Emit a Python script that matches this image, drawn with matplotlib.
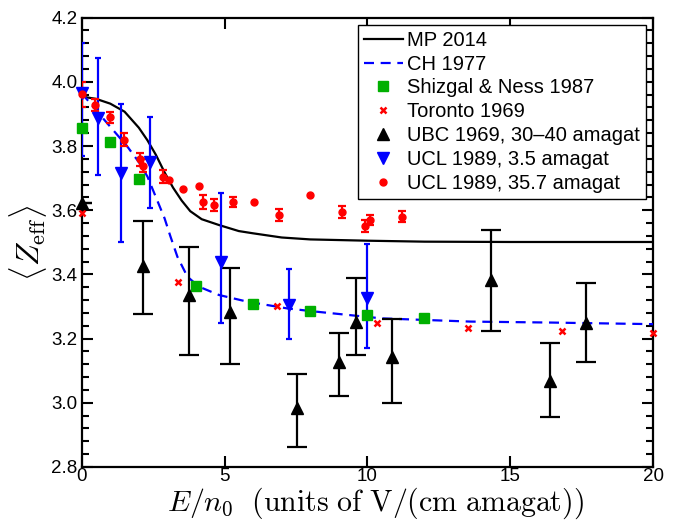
import numpy as np
import matplotlib
matplotlib.use("Agg")
import matplotlib.pyplot as plt
from matplotlib.ticker import MultipleLocator

plt.rcParams['font.family'] = ['Liberation Sans', 'DejaVu Sans']
plt.rcParams['mathtext.fontset'] = 'cm'

# MP 2014 (solid)
mp_x = [0, 0.5, 1.0, 1.5, 2.0, 2.3, 2.6, 2.9, 3.2, 3.5, 3.8, 4.2, 4.8, 5.5, 6.0, 7.0, 8.0, 10, 12, 15, 20]
mp_y = [3.954, 3.947, 3.932, 3.907, 3.857, 3.818, 3.772, 3.718, 3.67, 3.63, 3.597, 3.572, 3.554, 3.535, 3.528, 3.515, 3.509, 3.505, 3.502, 3.501, 3.501]

# CH 1977 (dashed)
ch_x = [0, 0.4, 1.0, 1.6, 2.0, 2.3, 2.6, 2.9, 3.1, 3.35, 3.7, 4.1, 4.8, 5.8, 7.2, 8.2, 10.5, 13.6, 16.4, 20]
ch_y = [3.965, 3.922, 3.86, 3.798, 3.75, 3.705, 3.64, 3.575, 3.52, 3.455, 3.393, 3.362, 3.336, 3.315, 3.294, 3.284, 3.263, 3.253, 3.25, 3.245]

# Shizgal & Ness 1987
sn_x = [0, 1, 2, 4, 6, 8, 10, 12]
sn_y = [3.855, 3.811, 3.697, 3.365, 3.307, 3.286, 3.273, 3.264]

# Toronto 1969
tor_x = [0, 3.38, 6.83, 10.33, 13.52, 16.83, 20.0]
tor_y = [3.59, 3.377, 3.302, 3.248, 3.234, 3.225, 3.216]

# UBC 1969, 30-40 amagat
ubc_x = [0, 2.16, 3.77, 5.19, 7.53, 9.01, 9.61, 10.86, 14.34, 16.38, 17.66]
ubc_y = [3.622, 3.427, 3.336, 3.284, 2.985, 3.128, 3.253, 3.144, 3.383, 3.069, 3.248]
ubc_lo = [0.0, 0.151, 0.187, 0.164, 0.122, 0.106, 0.104, 0.144, 0.159, 0.114, 0.122]
ubc_hi = [0.0, 0.140, 0.148, 0.135, 0.105, 0.088, 0.135, 0.117, 0.155, 0.118, 0.126]

# UCL 1989, 3.5 amagat
ucl1_x = [0, 0.58, 1.38, 2.39, 4.87, 7.26, 9.98]
ucl1_y = [3.965, 3.887, 3.716, 3.75, 3.44, 3.305, 3.326]
ucl1_lo = [0.195, 0.177, 0.216, 0.143, 0.191, 0.107, 0.154]
ucl1_hi = [0.155, 0.187, 0.214, 0.140, 0.214, 0.112, 0.169]

# UCL 1989, 35.7 amagat
ucl2_x = [0, 0.47, 0.99, 1.49, 2.04, 2.14, 2.84, 3.07, 3.54, 4.12, 4.24, 4.62, 5.31, 6.04, 6.91, 8.0, 9.11, 9.92, 10.1, 11.21]
ucl2_y = [3.961, 3.928, 3.889, 3.819, 3.759, 3.739, 3.704, 3.694, 3.666, 3.676, 3.626, 3.616, 3.625, 3.625, 3.585, 3.647, 3.595, 3.551, 3.569, 3.58]
ucl2_err = [0.038, 0.018, 0.016, 0.02, 0.02, 0.02, 0.02, 0, 0, 0, 0.022, 0.02, 0.016, 0, 0.02, 0, 0.018, 0.018, 0.016, 0.016]

fig = plt.figure(figsize=(6.82, 5.23), dpi=100)
ax = fig.add_axes([0.1198, 0.1071, 0.8377, 0.8592])

ax.plot(mp_x, mp_y, '-', color='black', lw=1.6, label='MP 2014', zorder=3)
ax.plot(ch_x, ch_y, '--', color='#0000ff', lw=1.6, dashes=(4.5, 3), label='CH 1977', zorder=3)
ax.plot(sn_x, sn_y, 's', color='#00b000', ms=6.5, mec='#00b000', ls='none',
        label='Shizgal & Ness 1987', zorder=5, clip_on=False)
ax.plot(tor_x, tor_y, 'x', color='red', ms=4.5, mew=1.8, ls='none',
        label='Toronto 1969', zorder=5, clip_on=False)

ubc_x_a = np.array(ubc_x); ubc_y_a = np.array(ubc_y)
ubc_err = np.array([ubc_lo, ubc_hi])
ax.errorbar(ubc_x_a, ubc_y_a, yerr=ubc_err, fmt='none', ecolor='black', elinewidth=1.6,
            capsize=7.5, capthick=1.6, zorder=4)
ax.plot(ubc_x, ubc_y, '^', color='black', ms=8, ls='none',
        label='UBC 1969, 30\u201340 amagat', zorder=6, clip_on=False)

ax.errorbar(ucl1_x, ucl1_y, yerr=np.array([ucl1_lo, ucl1_hi]), fmt='none', ecolor='#0000ff',
            elinewidth=1.6, capsize=2.5, capthick=1.6, zorder=4)
ax.plot(ucl1_x, ucl1_y, 'v', color='#0000ff', ms=8.5, ls='none',
        label='UCL 1989, 3.5 amagat', zorder=6, clip_on=False)

ux = np.array(ucl2_x); uy = np.array(ucl2_y); ue = np.array(ucl2_err)
m = ue > 0
ax.errorbar(ux[m], uy[m], yerr=ue[m], fmt='none', ecolor='red', elinewidth=1.6,
            capsize=2.8, capthick=1.6, zorder=4)
ax.plot(ucl2_x, ucl2_y, 'o', color='red', ms=5, ls='none',
        label='UCL 1989, 35.7 amagat', zorder=6, clip_on=False)

ax.set_xlim(0, 20)
ax.set_ylim(2.8, 4.2)
ax.xaxis.set_major_locator(MultipleLocator(5))
ax.yaxis.set_major_locator(MultipleLocator(0.2))
ax.yaxis.set_minor_locator(MultipleLocator(0.04))
ax.yaxis.set_major_formatter(matplotlib.ticker.FormatStrFormatter('%.1f'))
ax.tick_params(which='both', direction='in', top=True, right=True, labelsize=13.5, width=1.5)
ax.tick_params(which='major', length=8)
ax.tick_params(which='minor', length=5)
ax.tick_params(axis='x', pad=1)
ax.tick_params(axis='y', pad=3)
for s in ax.spines.values():
    s.set_linewidth(1.6)

ax.set_xlabel(r'$E/n_0\ \ \mathrm{(units\ of\ V/(cm\ amagat))}$', fontsize=21.5, labelpad=0)
ax.xaxis.label.set_x(0.515)
ax.set_ylabel(r'$\langle Z_{\mathrm{eff}}\rangle$', fontsize=23, labelpad=2)

leg = ax.legend(loc='upper right', fontsize=14.5, frameon=True, fancybox=False,
                edgecolor='black', framealpha=1, borderpad=0.3, labelspacing=0.24,
                handlelength=1.95, handletextpad=0.2, borderaxespad=0.35)
leg.get_frame().set_linewidth(1.0)

fig.savefig('out.png', dpi=100)
